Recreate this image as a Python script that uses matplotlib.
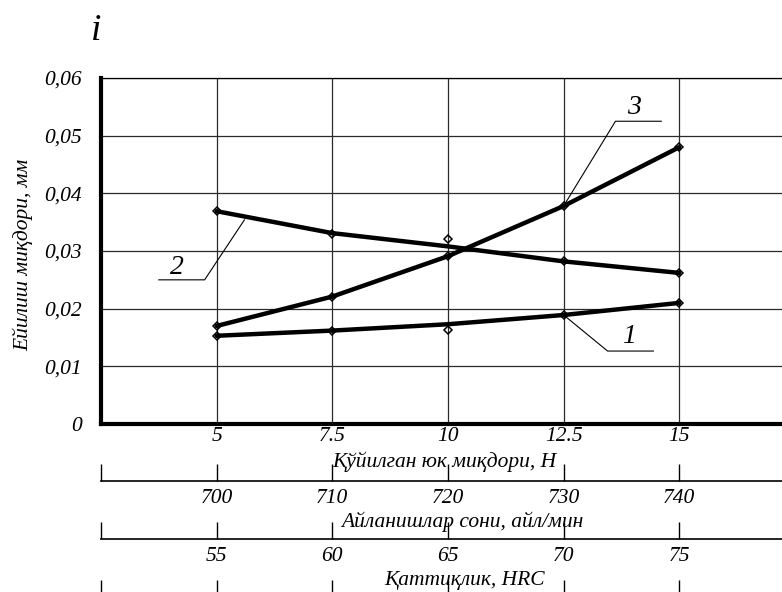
import matplotlib.pyplot as plt

# load (N) on the main axis, matching spindle speed and hardness rows below
LOAD = [5, 7.5, 10, 12.5, 15]
LOAD_LABELS = ["5", "7.5", "10", "12.5", "15"]
RPM_LABELS = ["700", "710", "720", "730", "740"]
HRC_LABELS = ["55", "60", "65", "70", "75"]

# wear (mm): smoothed curves and measured points
WEAR1 = [0.0153, 0.0162, 0.0173, 0.0189, 0.0210]
WEAR1_PTS = [0.0153, 0.0162, 0.0163, 0.0189, 0.0210]
WEAR2 = [0.0369, 0.0331, 0.0308, 0.0282, 0.0262]
WEAR2_PTS = [0.0369, 0.0329, 0.0321, 0.0282, 0.0262]
WEAR3 = [0.0170, 0.0221, 0.0291, 0.0378, 0.0480]
WEAR3_PTS = [0.0170, 0.0221, 0.0291, 0.0378, 0.0480]

Y_TICKS = [0, 0.01, 0.02, 0.03, 0.04, 0.05, 0.06]
Y_LABELS = ["0", "0,01", "0,02", "0,03", "0,04", "0,05", "0,06"]

FS = 15.5

plt.rcParams.update({
    "font.family": ["Liberation Serif", "DejaVu Serif"],
    "font.style": "italic",
    "font.size": FS,
})

W, H = 782, 592
fig = plt.figure(figsize=(W / 100, H / 100), dpi=100)
ax = fig.add_axes([101 / W, 1 - 424 / H, 1 - 101 / W, (424 - 78) / H])
ax.set_xlim(2.5, 17.22)
ax.set_ylim(0, 0.06)

for curve, pts in ((WEAR1, WEAR1_PTS), (WEAR2, WEAR2_PTS), (WEAR3, WEAR3_PTS)):
    ax.plot(LOAD, curve, color="black", lw=3.2, solid_capstyle="round", zorder=3)
    ax.plot(LOAD, pts, ls="none", marker="D", ms=4.5, mfc="none",
            mec="black", mew=1.1, zorder=4)

ax.set_xticks(LOAD)
ax.set_xticklabels(LOAD_LABELS)
ax.set_yticks(Y_TICKS)
ax.set_yticklabels(Y_LABELS)
ax.tick_params(axis="both", length=0, labelsize=FS)
ax.tick_params(axis="x", pad=2)
ax.tick_params(axis="y", pad=14)
ax.grid(True, color="#2a2a2a", lw=0.9)
ax.spines["right"].set_visible(False)
ax.spines["top"].set_linewidth(0.9)
ax.spines["left"].set_linewidth(3)
ax.spines["bottom"].set_linewidth(3)

ax.set_xlabel("Қўйилган юк миқдори, Н", fontsize=FS, va="center")
ax.xaxis.set_label_coords((444 - 101) / 681, (424 - 462) / 346)

fig.text(23 / W, 1 - 255 / H, "Ейилиш миқдори, мм", rotation=90,
         ha="center", va="center", fontsize=FS)
fig.text(96 / W, 1 - 31 / H, "i", fontsize=27, ha="center", va="center")

# number call-outs with leader lines
callouts = [
    ("1", (LOAD[3], WEAR1[3]), (13.45, 0.01265), (14.44, 0.01265), (13.92, 0.0151)),
    ("2", (5.6, 0.0354), (4.74, 0.0250), (3.75, 0.0250), (4.14, 0.0272)),
    ("3", (LOAD[3], WEAR3[3]), (13.62, 0.0525), (14.61, 0.0525), (14.03, 0.0549)),
]
for num, tip, bend, end, txt in callouts:
    ax.plot([tip[0], bend[0], end[0]], [tip[1], bend[1], end[1]],
            color="black", lw=0.8, zorder=2)
    ax.text(txt[0], txt[1], num, fontsize=20, ha="center", va="center")


def strip(y_line, labels, title, title_x, title_y):
    s = fig.add_axes([101 / W, 1 - y_line / H, 1 - 101 / W, 57.5 / H])
    s.set_xlim(ax.get_xlim())
    s.set_yticks([])
    s.patch.set_visible(False)
    for side in ("top", "left", "right"):
        s.spines[side].set_visible(False)
    s.spines["bottom"].set_linewidth(1.2)
    s.set_xticks([2.5] + LOAD)
    s.set_xticklabels([""] + labels if labels else [])
    s.tick_params(axis="x", direction="in", length=12.5, width=1,
                  labelsize=FS, pad=6)
    if title:
        s.set_xlabel(title, fontsize=FS, va="center")
        s.xaxis.set_label_coords((title_x - 101) / 681, (y_line - title_y) / 57.5)
    return s


strip(481, RPM_LABELS, "Айланишлар сони, айл/мин", 462, 522)
strip(539, HRC_LABELS, "Қаттиқлик, HRC", 465, 580)
strip(597, None, None, 0, 0)

fig.savefig("out.png", dpi=100)
